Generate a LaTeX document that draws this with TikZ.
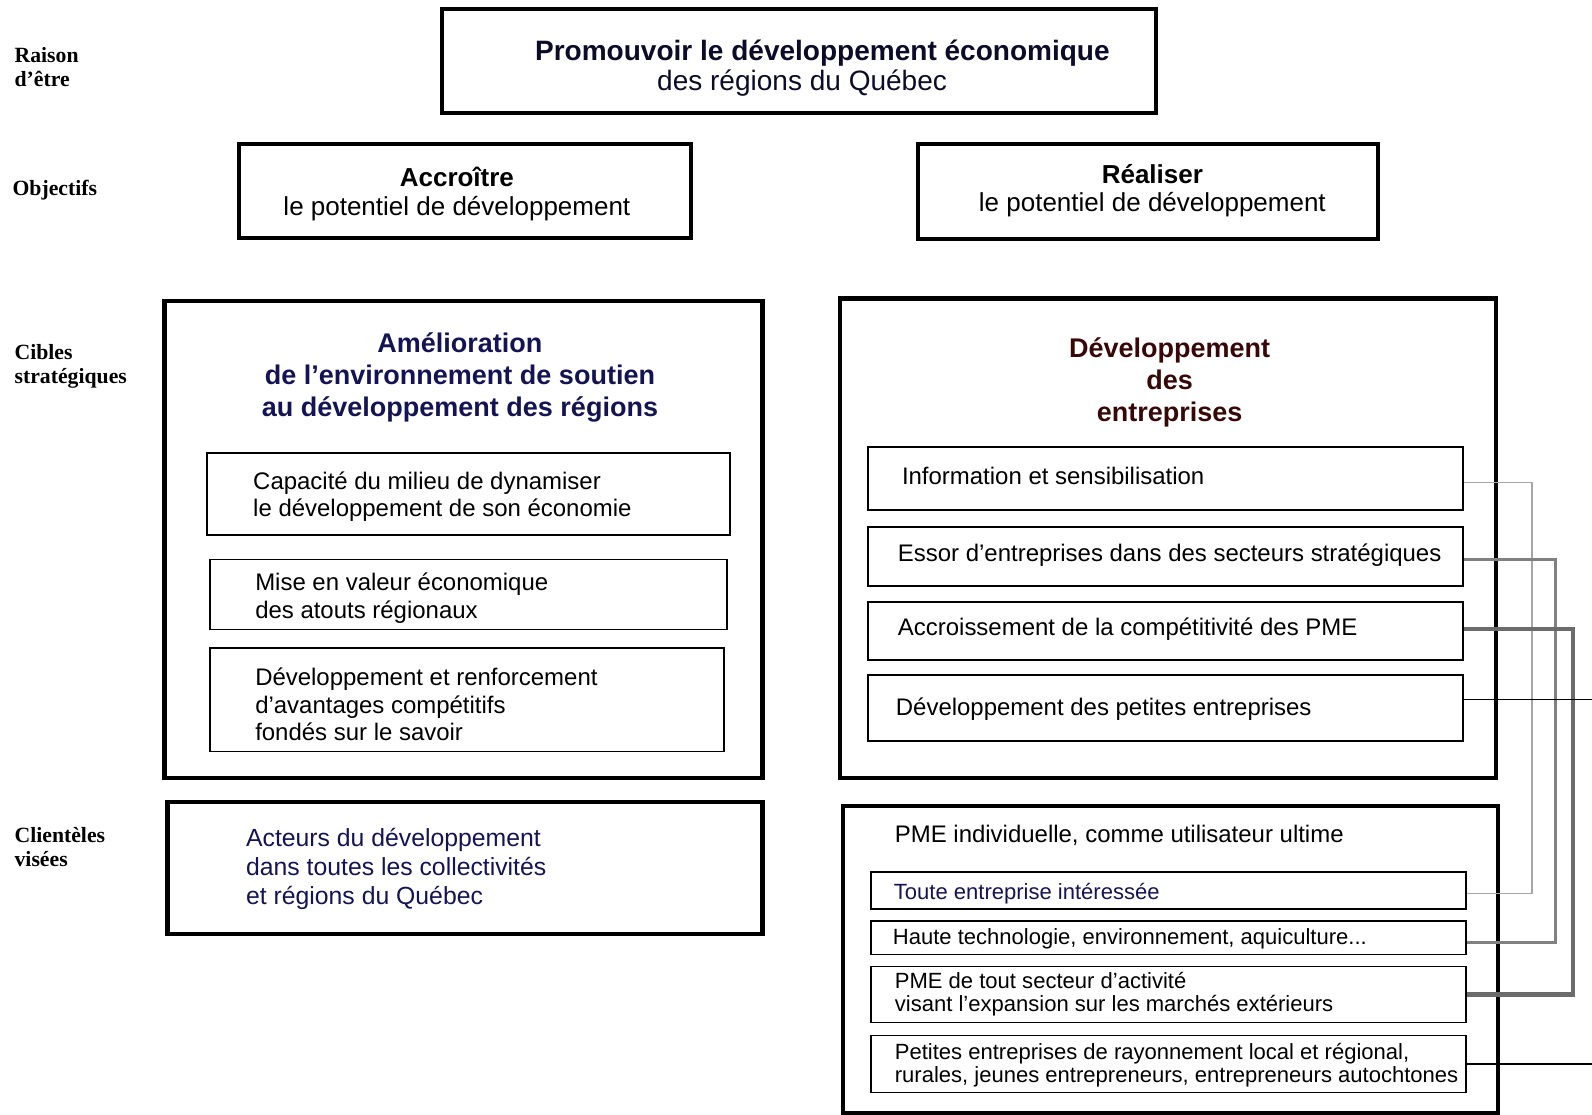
\documentclass[tikz,border=0pt]{standalone}
\usepackage{fontspec}
\setmainfont{Liberation Sans}
\newfontfamily\labelfont{Liberation Serif}
\usetikzlibrary{fit}

\definecolor{titretxt}{RGB}{12,12,40}
\definecolor{navytxt}{RGB}{20,20,85}
\definecolor{bruntxt}{RGB}{55,8,8}

\tikzset{
    bigbox/.style={draw, line width=2pt, inner sep=0pt},
    smallbox/.style={draw, line width=0.8pt, inner sep=0pt},
    rowlbl/.style={font=\labelfont\bfseries\fontsize{10.7}{12}\selectfont, align=left, anchor=west, inner sep=0pt},
    txt/.style={font=\fontsize{11.8}{13.5}\selectfont, align=left, anchor=west, inner sep=0pt},
    smalltxt/.style={font=\fontsize{10.85}{11.5}\selectfont, align=left, anchor=west, inner sep=0pt},
    headtxt/.style={font=\bfseries\fontsize{13.3}{15.75}\selectfont, align=center, inner sep=0pt},
    objtxt/.style={font=\fontsize{12.8}{14}\selectfont, align=center, inner sep=0pt},
    lnklight/.style={draw=black!35, line width=0.75pt},
    lnkmid/.style={draw=black!50, line width=1.5pt},
    lnkdark/.style={draw=black!58, line width=2pt},
    lnkthin/.style={draw=black, line width=0.6pt}
}

\begin{document}
\begin{tikzpicture}[x=0.5pt, y=-0.5pt]

    \useasboundingbox (0,0) rectangle (1568,1098);

    % colonne des rubriques
    \node[rowlbl] (lraison) at (14,66) {Raison\\d’être};
    \node[rowlbl] (lobj) at (12,187) {Objectifs};
    \node[rowlbl] (lcibles) at (14,361) {Cibles\\stratégiques};
    \node[rowlbl] (lclient) at (14,834) {Clientèles\\visées};

    % raison d'etre et objectifs
    \node[bigbox, fit={(435,9) (1139,111)}] (raison) {};
    \node[font=\bfseries\fontsize{13.8}{15}\selectfont, text=titretxt, inner sep=0pt] (raison1) at (810,52) {Promouvoir le développement économique};
    \node[font=\fontsize{13.8}{15}\selectfont, text=titretxt, inner sep=0pt] (raison2) at (790,82) {des régions du Québec};

    \node[bigbox, fit={(235,142) (681,234)}] (accroitre) {};
    \node[objtxt] (taccroitre) at (450,191) {\textbf{Accroître}\\le potentiel de développement};
    \node[bigbox, fit={(904,142) (1357,235)}] (realiser) {};
    \node[objtxt] (trealiser) at (1135,188) {\textbf{Réaliser}\\le potentiel de développement};

    % cibles strategiques
    \node[bigbox, fit={(162,296) (751,766)}] (ciblea) {};
    \node[headtxt, text=navytxt] (tciblea) at (453,372) {Amélioration\\de l’environnement de soutien\\au développement des régions};
    \node[smallbox, fit={(204,446) (719,527)}] (capacite) {};
    \node[txt] (tcapacite) at (249,489) {Capacité du milieu de dynamiser\\le développement de son économie};
    \node[smallbox, fit={(207,551) (716,620)}] (miseval) {};
    \node[txt] (tmiseval) at (251,589) {Mise en valeur économique\\des atouts régionaux};
    \node[smallbox, fit={(207,638) (713,740)}] (devrenf) {};
    \node[txt] (tdevrenf) at (251,694) {Développement et renforcement\\d’avantages compétitifs\\fondés sur le savoir};

    \node[bigbox, fit={(827,294) (1473,766)}] (cibleb) {};
    \node[headtxt, text=bruntxt] (tcibleb) at (1152,377) {Développement\\des\\entreprises};
    \node[smallbox, fit={(855,440) (1441,502)}] (info) {};
    \node[txt] (tinfo) at (888,469) {Information et sensibilisation};
    \node[smallbox, fit={(855,519) (1441,577)}] (essor) {};
    \node[txt] (tessor) at (884,547) {Essor d’entreprises dans des secteurs stratégiques};
    \node[smallbox, fit={(855,593) (1441,650)}] (accr) {};
    \node[txt] (taccr) at (884,620) {Accroissement de la compétitivité des PME};
    \node[smallbox, fit={(855,665) (1441,730)}] (devpe) {};
    \node[txt] (tdevpe) at (882,698) {Développement des petites entreprises};

    % clienteles visees
    \node[bigbox, fit={(165,790) (751,920)}] (clienta) {};
    \node[txt, font=\fontsize{12.2}{14.25}\selectfont, text=navytxt] (tclienta) at (242,856) {Acteurs du développement\\dans toutes les collectivités\\et régions du Québec};

    \node[bigbox, fit={(830,794) (1475,1096)}] (clientb) {};
    \node[txt] (tclientb) at (881,823) {PME individuelle, comme utilisateur ultime};
    \node[smallbox, fit={(858,859) (1444,895)}] (toute) {};
    \node[smalltxt, text=navytxt] (ttoute) at (880,880) {Toute entreprise intéressée};
    \node[smallbox, fit={(858,907) (1444,940)}] (haute) {};
    \node[smalltxt] (thaute) at (879,925) {Haute technologie, environnement, aquiculture...};
    \node[smallbox, fit={(858,952) (1444,1007)}] (pmeext) {};
    \node[smalltxt] (tpmeext) at (881,979) {PME de tout secteur d’activité\\visant l’expansion sur les marchés extérieurs};
    \node[smallbox, fit={(858,1020) (1444,1076)}] (petites) {};
    \node[smalltxt] (tpetites) at (881,1049) {Petites entreprises de rayonnement local et régional,\\rurales, jeunes entrepreneurs, entrepreneurs autochtones};

    % liens cibles - clienteles
    \coordinate (col1) at (1509,0);
    \coordinate (col2) at (1532,0);
    \coordinate (col3) at (1549,0);
    \coordinate (bord) at (1568,0);

    \draw[lnklight] ([yshift=-2pt]info.east) -- ([yshift=-2pt]info.east -| col1) |- ([yshift=-1.5pt]toute.east);
    \draw[lnkmid] ([yshift=-1.5pt]essor.east) -- ([yshift=-1.5pt]essor.east -| col2) |- ([yshift=-2.2pt]haute.east);
    \draw[lnkdark] ([yshift=1.2pt]accr.east) -- ([yshift=1.2pt]accr.east -| col3) |- (pmeext.east);
    \draw[lnkthin] ([yshift=4.2pt]devpe.east) -- ([yshift=4.2pt]devpe.east -| bord);
    \draw[lnkthin] (petites.east) -- (petites.east -| bord);

\end{tikzpicture}
\end{document}
